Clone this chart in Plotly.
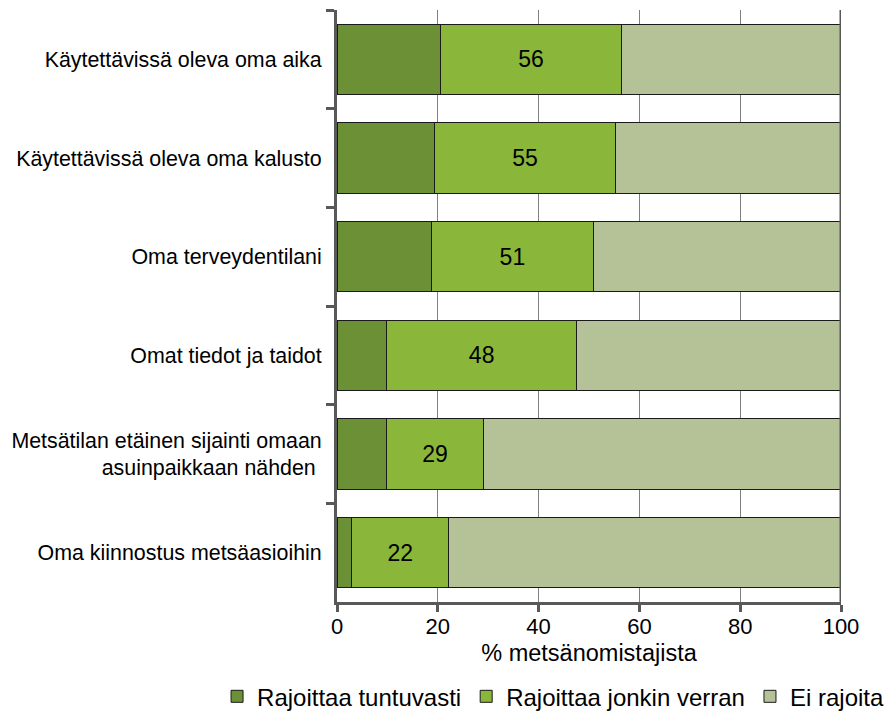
import plotly.graph_objects as go

# Tekijät, jotka rajoittavat metsäasioiden hoitoa
categories = [
    "Käytettävissä oleva oma aika",
    "Käytettävissä oleva oma kalusto",
    "Oma terveydentilani",
    "Omat tiedot ja taidot",
    "Metsätilan etäinen sijainti omaan<br>asuinpaikkaan nähden\u00a0",
    "Oma kiinnostus metsäasioihin",
]
tuntuvasti = [20.5, 19.3, 18.8, 9.9, 9.9, 2.9]
jonkin_verran = [36.0, 36.0, 32.0, 37.6, 19.1, 19.3]
ei_rajoita = [43.5, 44.7, 49.2, 52.5, 71.0, 77.8]
yhteensa = ["56", "55", "51", "48", "29", "22"]

FONT = "Liberation Sans, Arial, sans-serif"
AXIS = "#595959"
OUTLINE = dict(color="#1a1a1a", width=1)

fig = go.Figure()

fig.add_trace(go.Bar(y=categories, x=tuntuvasti, orientation="h",
                     name="Rajoittaa tuntuvasti",
                     marker=dict(color="#6b9035", line=OUTLINE)))
fig.add_trace(go.Bar(y=categories, x=jonkin_verran, orientation="h",
                     name="Rajoittaa jonkin verran",
                     text=yhteensa, textposition="inside",
                     insidetextanchor="middle", textangle=0,
                     textfont=dict(family=FONT, size=23, color="black"),
                     marker=dict(color="#8ab63a", line=OUTLINE)))
fig.add_trace(go.Bar(y=categories, x=ei_rajoita, orientation="h",
                     name="Ei rajoita",
                     marker=dict(color="#b5c298", line=OUTLINE)))

# oikean reunan pystyviiva (100 %)
fig.add_shape(type="line", xref="x", yref="paper", x0=100, x1=100, y0=0, y1=1,
              line=dict(color=AXIS, width=3))

# sivun body-marginaali (8 px) on huomioitu koossa ja marginaaleissa
fig.update_layout(
    width=887, height=705,
    barmode="stack", bargap=0.29,
    plot_bgcolor="white", paper_bgcolor="white",
    font=dict(family=FONT, size=21.4, color="black"),
    margin=dict(l=329, r=54, t=2, b=111, autoexpand=False),
    showlegend=True,
    legend=dict(orientation="h", x=-0.238, xanchor="left", y=-0.16, yanchor="middle",
                font=dict(family=FONT, size=24, color="black"),
                traceorder="normal", itemclick=False),
)
fig.update_xaxes(range=[0, 100], tickvals=[0, 20, 40, 60, 80, 100],
                 showgrid=True, gridcolor="#808080", gridwidth=1,
                 showline=True, linecolor=AXIS, linewidth=3,
                 ticks="outside", ticklen=7, tickwidth=3, tickcolor=AXIS,
                 tickfont=dict(size=22), zeroline=False, ticklabelstandoff=-4,
                 title=dict(text="% metsänomistajista", font=dict(size=23.5), standoff=7))
fig.update_yaxes(autorange="reversed", showgrid=False,
                 showline=True, linecolor=AXIS, linewidth=3,
                 ticks="outside", tickson="boundaries", ticklen=8, tickwidth=3,
                 tickcolor=AXIS, tickfont=dict(size=21.4), ticklabelstandoff=8)

fig.write_html("out.html")
